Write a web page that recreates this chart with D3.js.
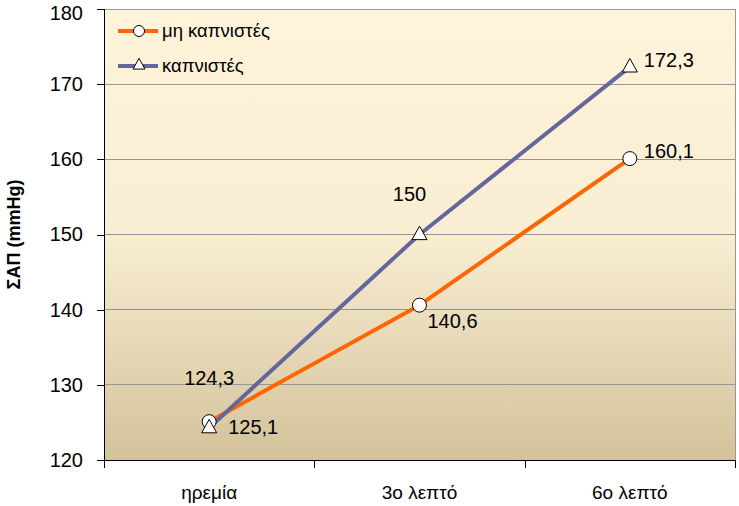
<!DOCTYPE html>
<html>
<head>
<meta charset="utf-8">
<script src="https://cdn.jsdelivr.net/npm/d3@7"></script>
<style>
  html, body { margin: 0; padding: 0; background: #ffffff; }
  svg { display: block; font-family: Arial, "Liberation Sans", sans-serif; }
</style>
</head>
<body>
<svg id="chart" width="739" height="506"></svg>
<script>
// ---- data ----
const categories = ["ηρεμία", "3ο λεπτό", "6ο λεπτό"];
const nonSmokers = [125.1, 140.6, 160.1];
const smokers = [124.3, 150, 172.3];
const seriesNames = ["μη καπνιστές", "καπνιστές"];
const yTicks = [120, 130, 140, 150, 160, 170, 180];
const yTitle = "ΣΑΠ (mmHg)";

// ---- layout ----
const W = 739, H = 506;
const m = { left: 104, right: 4, top: 9, bottom: 46 };
const svg = d3.select("#chart");

const x = d3.scaleBand().domain(categories).range([m.left, W - m.right]);
const y = d3.scaleLinear().domain([120, 180]).range([H - m.bottom, m.top]);

// background gradient
const defs = svg.append("defs");
const grad = defs.append("linearGradient").attr("id", "bg").attr("x1", 0).attr("y1", 0).attr("x2", 0).attr("y2", 1);
grad.append("stop").attr("offset", "0%").attr("stop-color", "#fff4d9");
grad.append("stop").attr("offset", "50%").attr("stop-color", "#f9eed3");
grad.append("stop").attr("offset", "100%").attr("stop-color", "#d3c29b");

svg.append("rect")
  .attr("x", m.left).attr("y", m.top)
  .attr("width", W - m.right - m.left).attr("height", H - m.bottom - m.top)
  .attr("fill", "url(#bg)");

// gridlines
svg.append("g").selectAll("line").data(yTicks.slice(1)).join("line")
  .attr("x1", m.left).attr("x2", W - m.right)
  .attr("y1", d => y(d)).attr("y2", d => y(d))
  .attr("stroke", "#969696").attr("stroke-width", 1).attr("shape-rendering", "crispEdges");

// right border
svg.append("line")
  .attr("x1", W - m.right).attr("x2", W - m.right)
  .attr("y1", m.top).attr("y2", H - m.bottom)
  .attr("stroke", "#969696").attr("shape-rendering", "crispEdges");

// y axis
const yAxis = svg.append("g").attr("transform", `translate(${m.left},0)`)
  .call(d3.axisLeft(y).tickValues(yTicks).tickSize(7).tickPadding(14).tickFormat(d3.format("d")));
yAxis.select(".domain").attr("stroke", "#000").attr("shape-rendering", "crispEdges");
yAxis.selectAll(".tick line").attr("stroke", "#000").attr("shape-rendering", "crispEdges");
yAxis.selectAll("text").attr("font-size", 20).attr("fill", "#000").attr("font-family", "Arial, 'Liberation Sans', sans-serif");
// keep the top label inside the picture
yAxis.selectAll(".tick").filter(d => d === 180).select("text").attr("dy", "0.5em");

// x axis
const xAxis = svg.append("g").attr("transform", `translate(0,${H - m.bottom})`)
  .call(d3.axisBottom(x).tickSize(0).tickPadding(26));
xAxis.select(".domain").attr("stroke", "#000").attr("shape-rendering", "crispEdges");
xAxis.selectAll("text").attr("font-size", 19).attr("fill", "#000").attr("font-family", "Arial, 'Liberation Sans', sans-serif");
// category separator ticks
const bounds = categories.map(c => x(c)).concat([x(categories[categories.length - 1]) + x.bandwidth()]);
xAxis.append("g").selectAll("line").data(bounds).join("line")
  .attr("x1", d => Math.round(d) + 0.5).attr("x2", d => Math.round(d) + 0.5)
  .attr("y1", 0).attr("y2", 8).attr("stroke", "#000");

// y title
svg.append("text")
  .attr("transform", `translate(20,${(m.top + H - m.bottom) / 2}) rotate(-90)`)
  .attr("text-anchor", "middle")
  .attr("font-size", 18).attr("font-weight", "bold")
  .text(yTitle);

// lines
const cx = c => x(c) + x.bandwidth() / 2;
const line = d3.line().x((d, i) => cx(categories[i])).y(d => y(d));
const colors = ["#ff6600", "#66669e"];

svg.append("path").datum(nonSmokers).attr("d", line)
  .attr("fill", "none").attr("stroke", colors[0]).attr("stroke-width", 4).attr("stroke-linejoin", "round");
svg.append("path").datum(smokers).attr("d", line)
  .attr("fill", "none").attr("stroke", colors[1]).attr("stroke-width", 4).attr("stroke-linejoin", "round");

function triPath(s) {
  const h = s * 0.9;
  return `M0,${-h * 0.62}L${s / 2},${h * 0.38}L${-s / 2},${h * 0.38}Z`;
}

// markers
svg.append("g").selectAll("circle").data(nonSmokers).join("circle")
  .attr("cx", (d, i) => cx(categories[i])).attr("cy", d => y(d)).attr("r", 7)
  .attr("fill", "#fff").attr("stroke", "#000").attr("stroke-width", 1);
svg.append("g").selectAll("path").data(smokers).join("path")
  .attr("transform", (d, i) => `translate(${cx(categories[i])},${y(d)})`)
  .attr("d", triPath(15))
  .attr("fill", "#fff").attr("stroke", "#000").attr("stroke-width", 1);

// data labels (offsets from point: dx, dy, anchor)
const fmt = v => String(v).replace(".", ",");
const nsPlace = [[19, 12, "start"], [8, 23, "start"], [14, -1, "start"]];
const smPlace = [[0, -43, "middle"], [-10, -34, "middle"], [14, 0, "start"]];
function labels(vals, place) {
  svg.append("g").selectAll("text").data(vals).join("text")
    .attr("x", (d, i) => cx(categories[i]) + place[i][0])
    .attr("y", (d, i) => y(d) + place[i][1])
    .attr("text-anchor", (d, i) => place[i][2])
    .attr("font-size", 20).attr("fill", "#000")
    .text(d => fmt(d));
}
labels(nonSmokers, nsPlace);
labels(smokers, smPlace);

// legend
const leg = svg.append("g");
const legRows = [31, 66];
[0, 1].forEach(k => {
  const yy = legRows[k];
  leg.append("line").attr("x1", 118).attr("x2", 158).attr("y1", yy).attr("y2", yy)
    .attr("stroke", colors[k]).attr("stroke-width", 4);
  if (k === 0) {
    leg.append("circle").attr("cx", 139).attr("cy", yy).attr("r", 5.5)
      .attr("fill", "#fff").attr("stroke", "#000");
  } else {
    leg.append("path").attr("transform", `translate(139,${yy - 1})`).attr("d", triPath(12))
      .attr("fill", "#fff").attr("stroke", "#000");
  }
  leg.append("text").attr("x", 162).attr("y", yy).attr("dy", "0.35em")
    .attr("font-size", 18.5).text(seriesNames[k]);
});
</script>
</body>
</html>
